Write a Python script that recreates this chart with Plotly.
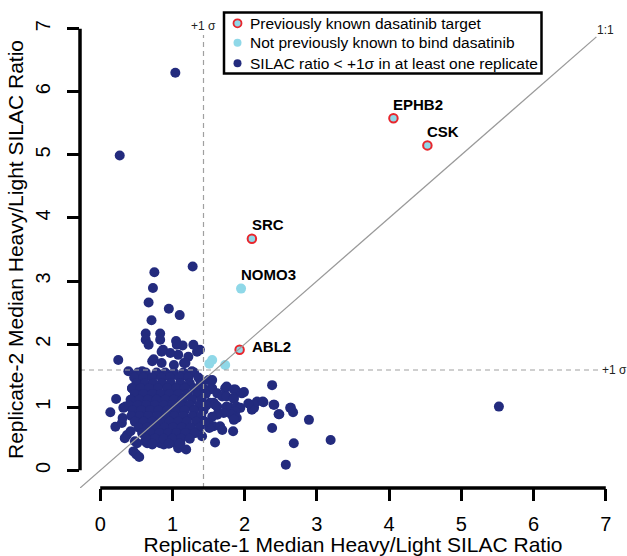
import plotly.graph_objects as go

FONT = "Liberation Sans, Arial, sans-serif"

# ---- data ----
# periphery / outliers of the "SILAC ratio < +1 sigma" group
outer_x = [1.04, 0.27, 0.75, 1.28, 0.73, 0.67, 0.95, 1.10, 0.71, 0.63, 0.83, 0.63, 0.83, 1.05, 1.14, 1.38, 1.34,
           0.25, 1.27, 0.87, 0.97, 0.74, 1.22, 1.16, 0.39, 0.58, 0.55, 0.67, 0.85, 1.06, 1.08, 0.72, 0.85, 1.02,
           1.18, 1.29, 0.46, 0.44, 0.22, 0.14, 0.32, 0.35, 0.21, 0.30, 0.31, 0.37, 0.34, 0.46, 0.50, 0.54, 0.48,
           0.42, 0.51, 0.62, 0.65, 0.72, 0.83, 0.88, 1.04, 1.11, 1.08, 1.19, 1.02, 1.29, 1.41]
outer_y = [6.30, 4.99, 3.14, 3.23, 2.89, 2.66, 2.56, 2.46, 2.38, 2.17, 2.17, 2.07, 2.07, 2.05, 1.98, 1.91, 1.88,
           1.75, 1.57, 1.91, 1.86, 1.76, 1.80, 1.70, 1.57, 1.57, 1.41, 1.99, 1.88, 1.99, 1.83, 1.73, 1.70, 1.67,
           1.70, 1.99, 1.28, 1.30, 1.13, 0.92, 0.99, 1.01, 0.69, 0.75, 0.83, 0.56, 0.51, 0.30, 0.25, 0.21, 0.46,
           0.62, 0.43, 0.46, 0.43, 0.41, 0.43, 0.41, 0.43, 0.43, 0.35, 0.33, 0.49, 0.59, 0.54]

right_x = [1.39, 1.50, 1.55, 1.55, 1.52, 1.62, 1.73, 1.75, 1.69, 1.75, 1.85, 1.87, 1.96, 1.99, 1.85, 1.85,
           1.57, 1.52, 1.59, 1.62, 1.75, 1.80, 1.89, 1.94, 1.87, 1.71, 2.08, 2.10, 2.13, 2.17, 2.25, 2.40,
           2.38, 2.47, 2.63, 2.67, 2.89, 2.38, 2.68, 3.19, 2.57, 5.52, 1.62, 1.82, 1.55, 1.89, 1.85, 1.50,
           1.57, 1.66, 1.51, 1.69, 1.84, 1.59, 2.05, 2.26, 2.41, 2.48, 2.64]
right_y = [1.41, 1.43, 1.43, 1.30, 1.28, 1.22, 1.30, 1.33, 1.17, 1.17, 1.28, 1.28, 1.22, 1.24, 1.15, 1.13,
           1.07, 1.07, 1.04, 1.01, 1.01, 0.99, 1.01, 0.99, 0.93, 0.91, 1.04, 0.96, 0.99, 1.09, 1.09, 1.04,
           1.35, 0.89, 0.99, 0.92, 0.80, 0.67, 0.43, 0.48, 0.09, 1.01, 0.88, 0.88, 0.85, 0.83, 0.80, 0.75,
           0.70, 0.70, 0.67, 0.64, 0.62, 0.44, 1.06, 1.08, 1.04, 0.89, 0.99]

# dense core of the cloud, row by row (y level : x positions)
core_rows_y = [1.55, 1.47, 1.38, 1.30, 1.21, 1.12, 1.03, 0.95, 0.86, 0.77, 0.68, 0.59, 0.50, 0.42]
core_rows_x = [
    [0.52, 0.63, 0.78, 0.90, 1.02, 1.15, 1.30],
    [0.47, 0.60, 0.72, 0.85, 0.97, 1.10, 1.22, 1.36],
    [0.50, 0.62, 0.74, 0.86, 0.98, 1.11, 1.24, 1.40],
    [0.44, 0.56, 0.68, 0.80, 0.93, 1.05, 1.17, 1.30, 1.43],
    [0.48, 0.60, 0.72, 0.84, 0.96, 1.08, 1.21, 1.34, 1.46],
    [0.42, 0.54, 0.66, 0.78, 0.90, 1.02, 1.14, 1.27, 1.40],
    [0.40, 0.52, 0.64, 0.76, 0.88, 1.00, 1.12, 1.24, 1.37, 1.47],
    [0.45, 0.57, 0.69, 0.81, 0.93, 1.05, 1.17, 1.30, 1.43],
    [0.43, 0.55, 0.67, 0.79, 0.91, 1.03, 1.15, 1.28, 1.40],
    [0.48, 0.60, 0.72, 0.84, 0.96, 1.08, 1.20, 1.33, 1.45],
    [0.53, 0.65, 0.77, 0.89, 1.01, 1.13, 1.25, 1.38],
    [0.58, 0.70, 0.82, 0.94, 1.06, 1.18, 1.31],
    [0.64, 0.76, 0.88, 1.00, 1.12, 1.24],
    [0.72, 0.95, 1.10],
]

# not previously known to bind dasatinib
novel_genes = ["", "", "", "NOMO3"]
novel_x = [1.55, 1.51, 1.73, 1.95]
novel_y = [1.75, 1.69, 1.67, 2.88]

# previously known dasatinib targets
known_genes = ["EPHB2", "CSK", "SRC", "ABL2"]
known_x = [4.06, 4.53, 2.10, 1.93]
known_y = [5.58, 5.15, 3.67, 1.91]

sigma_x = 1.43   # +1 sigma threshold, replicate 1
sigma_y = 1.59   # +1 sigma threshold, replicate 2

x_ticks = [0, 1, 2, 3, 4, 5, 6, 7]
y_ticks = [0, 1, 2, 3, 4, 5, 6, 7]

legend_labels = ["Previously known dasatinib target",
                 "Not previously known to bind dasatinib",
                 "SILAC ratio < +1\u03c3 in at least one replicate"]

# ---- build ----
NAVY = "#232b7e"
LBLUE = "#8fd8e8"
RED = "#e8262d"

core_x, core_y = [], []
for yy, xs in zip(core_rows_y, core_rows_x):
    for xx in xs:
        core_x.append(xx)
        core_y.append(yy)

navy_x = outer_x + right_x + core_x
navy_y = outer_y + right_y + core_y

fig = go.Figure()
fig.add_trace(go.Scatter(x=navy_x, y=navy_y, mode="markers",
                         marker=dict(color=NAVY, size=10, line=dict(width=0)),
                         name=legend_labels[2], showlegend=False, hoverinfo="x+y"))
fig.add_trace(go.Scatter(x=novel_x, y=novel_y, mode="markers",
                         marker=dict(color=LBLUE, size=10, line=dict(width=0)),
                         name=legend_labels[1], showlegend=False))
fig.add_trace(go.Scatter(x=known_x, y=known_y, mode="markers",
                         marker=dict(color=LBLUE, size=8.5, line=dict(color=RED, width=2)),
                         name=legend_labels[0], showlegend=False))

LO, HI = -0.28, 7.28
shapes = []
annotations = []

# reference lines (above points)
shapes.append(dict(type="line", xref="x", yref="y", x0=LO, y0=LO, x1=6.87, y1=6.87,
                   line=dict(color="#9a9a9a", width=1.3), layer="above"))
shapes.append(dict(type="line", xref="x", yref="y", x0=sigma_x, x1=sigma_x, y0=LO, y1=6.9,
                   line=dict(color="#a0a0a0", width=1.2, dash="5px,4px"), layer="above"))
shapes.append(dict(type="line", xref="x", yref="y", x0=LO, x1=6.9, y0=sigma_y, y1=sigma_y,
                   line=dict(color="#a0a0a0", width=1.2, dash="5px,4px"), layer="above"))

# R-style axis lines spanning 0..7
shapes.append(dict(type="line", xref="x", yref="paper", x0=0, x1=7, y0=0, y1=0,
                   line=dict(color="black", width=3.5), layer="above"))
shapes.append(dict(type="line", xref="paper", yref="y", x0=0, x1=0, y0=0, y1=7,
                   line=dict(color="black", width=3.5), layer="above"))

annotations.append(dict(x=sigma_x, y=7.05, xref="x", yref="y", text="+1 \u03c3", showarrow=False,
                        font=dict(family=FONT, size=12, color="#222"), xanchor="center", yanchor="middle"))
annotations.append(dict(x=6.92, y=sigma_y, xref="x", yref="y", text="+1 \u03c3", showarrow=False,
                        font=dict(family=FONT, size=12, color="#222"), xanchor="left", yanchor="middle"))
annotations.append(dict(x=7.0, y=6.98, xref="x", yref="y", text="1:1", showarrow=False,
                        font=dict(family=FONT, size=12, color="#222"), xanchor="center", yanchor="middle"))

# gene labels
for g, gx, gy in zip(known_genes + novel_genes, known_x + novel_x, known_y + novel_y):
    if not g:
        continue
    if g == "ABL2":
        annotations.append(dict(x=gx, y=gy, xref="x", yref="y", text="<b>%s</b>" % g, showarrow=False,
                                font=dict(family=FONT, size=15, color="black"),
                                xanchor="left", yanchor="middle", xshift=10, yshift=3))
    else:
        annotations.append(dict(x=gx, y=gy, xref="x", yref="y", text="<b>%s</b>" % g, showarrow=False,
                                font=dict(family=FONT, size=15, color="black"),
                                xanchor="left", yanchor="middle", xshift=-2, yshift=14))

# manual R-style legend
L, R_, W, H = 80, 1, 627, 556
T, B = 11, 68
pw, ph = W - L - R_, H - T - B
def px(xp):
    return (xp - L) / pw
def py(yp):
    return (H - B - yp) / ph

shapes.append(dict(type="rect", xref="paper", yref="paper", x0=px(224), x1=px(541.5), y0=py(73.5), y1=py(12.5),
                   line=dict(color="black", width=2.5), fillcolor="white", layer="above"))
rows = [23.3, 42.7, 63.3]
styles = [(LBLUE, RED, 1.8), (LBLUE, LBLUE, 0), (NAVY, NAVY, 0)]
for lab, ry, (fc, lc, lw) in zip(legend_labels, rows, styles):
    shapes.append(dict(type="circle", xref="paper", yref="paper", xsizemode="pixel", ysizemode="pixel",
                       xanchor=px(237.5), yanchor=py(ry), x0=-4, x1=4, y0=-4, y1=4,
                       fillcolor=fc, line=dict(color=lc, width=lw), layer="above"))
    annotations.append(dict(x=px(247.5), y=py(ry), xref="paper", yref="paper", text=lab, showarrow=False,
                            font=dict(family=FONT, size=15.5, color="black"), xanchor="left", yanchor="middle"))

fig.update_layout(
    width=W, height=H,
    margin=dict(l=L, r=R_, t=T, b=B, pad=0),
    plot_bgcolor="white", paper_bgcolor="white",
    showlegend=False,
    shapes=shapes, annotations=annotations,
    font=dict(family=FONT, color="black"),
)
fig.update_xaxes(range=[LO, HI], tickvals=x_ticks, ticktext=[str(t) for t in x_ticks],
                 ticks="outside", ticklen=12, tickwidth=3, tickcolor="black",
                 showline=False, showgrid=False, zeroline=False, ticklabelstandoff=6,
                 tickfont=dict(family=FONT, size=20, color="black"),
                 title=dict(text="Replicate-1 Median Heavy/Light SILAC Ratio",
                            font=dict(family=FONT, size=21, color="black"), standoff=0),
                 automargin=False)
fig.update_yaxes(range=[LO, HI], tickvals=y_ticks, ticktext=[str(t) for t in y_ticks],
                 ticks="outside", ticklen=12, tickwidth=3, tickcolor="black", tickangle=-90,
                 showline=False, showgrid=False, zeroline=False, ticklabelstandoff=9,
                 tickfont=dict(family=FONT, size=20, color="black"),
                 title=dict(text="Replicate-2 Median Heavy/Light SILAC Ratio",
                            font=dict(family=FONT, size=21, color="black"), standoff=2),
                 automargin=False)

# remove the browser's default 8px body margin so the figure fills the window
fig.write_html("out.html", config={"displayModeBar": False},
               post_script="document.body.style.margin='0';document.body.style.overflow='hidden';")
